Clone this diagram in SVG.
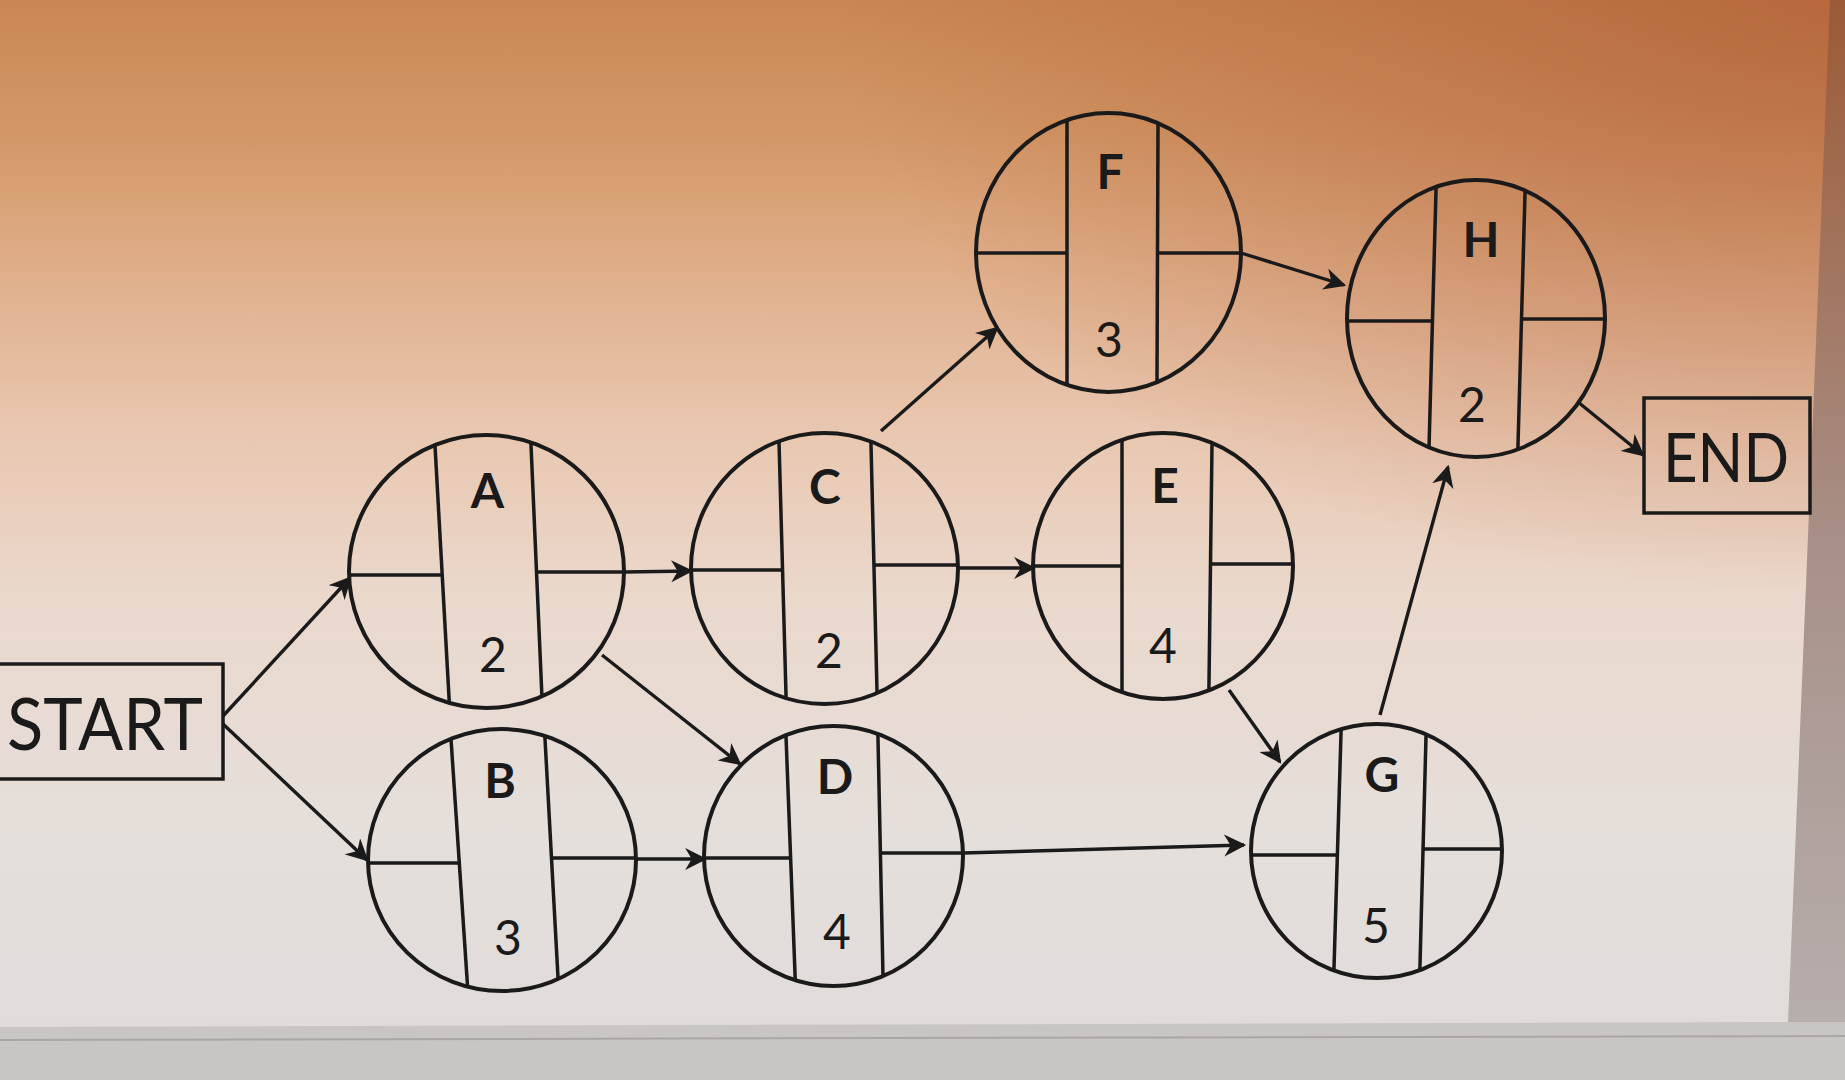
<svg xmlns="http://www.w3.org/2000/svg" width="1845" height="1080" viewBox="0 0 1845 1080">
<defs>
<linearGradient id="bg" x1="0" y1="0" x2="0" y2="1">
<stop offset="0" stop-color="#c98755"/>
<stop offset="0.12" stop-color="#d39766"/>
<stop offset="0.26" stop-color="#e0b08c"/>
<stop offset="0.4" stop-color="#e9c7b0"/>
<stop offset="0.55" stop-color="#ead8cc"/>
<stop offset="0.78" stop-color="#e5dfdb"/>
<stop offset="1" stop-color="#dfdbd9"/>
</linearGradient>
<radialGradient id="tr" cx="1" cy="0" r="0.55">
<stop offset="0" stop-color="#a9542b" stop-opacity="0.6"/>
<stop offset="1" stop-color="#a9542b" stop-opacity="0"/>
</radialGradient>
<linearGradient id="bez" x1="0" y1="0" x2="0" y2="1">
<stop offset="0" stop-color="#9c5a36"/>
<stop offset="0.5" stop-color="#a89088"/>
<stop offset="1" stop-color="#b8b2b0"/>
</linearGradient>
<marker id="ah" viewBox="0 0 10 10" refX="9" refY="5" markerWidth="6.5" markerHeight="6.5" orient="auto" markerUnits="strokeWidth">
<path d="M0,0 L10,5 L0,10 L3,5 Z" fill="#1a1a1a"/>
</marker>
<clipPath id="cA"><ellipse cx="486.5" cy="571.5" rx="137.5" ry="136.5"/></clipPath>
<clipPath id="cB"><ellipse cx="502" cy="860" rx="134" ry="131"/></clipPath>
<clipPath id="cC"><ellipse cx="824.5" cy="568.5" rx="133.5" ry="135.5"/></clipPath>
<clipPath id="cD"><ellipse cx="833.5" cy="856" rx="129.5" ry="130"/></clipPath>
<clipPath id="cE"><ellipse cx="1163" cy="566" rx="130" ry="133"/></clipPath>
<clipPath id="cF"><ellipse cx="1108.5" cy="252.5" rx="132.5" ry="139.5"/></clipPath>
<clipPath id="cG"><ellipse cx="1376.5" cy="851" rx="125.5" ry="127"/></clipPath>
<clipPath id="cH"><ellipse cx="1476" cy="318.5" rx="129" ry="138.5"/></clipPath>
</defs>
<style>
.ring{fill:none;stroke:#1a1a1a;stroke-width:4}
.div{stroke:#1a1a1a;stroke-width:3.5;fill:none}
.box{fill:none;stroke:#1a1a1a;stroke-width:3.5}
.con{stroke:#1a1a1a;stroke-width:3.4;fill:none;marker-end:url(#ah)}
.let{font-family:Lato,"Open Sans","Liberation Sans",sans-serif;font-weight:bold;font-size:48px;fill:#1a1a1a;text-anchor:middle}
.num{font-family:Lato,"Open Sans","Liberation Sans",sans-serif;font-size:48px;fill:#1a1a1a;text-anchor:middle}
.big{font-family:Lato,"Open Sans","Liberation Sans",sans-serif;fill:#1a1a1a}
</style>
<rect x="0" y="0" width="1845" height="1080" fill="url(#bg)"/>
<rect x="0" y="0" width="1845" height="1080" fill="url(#tr)"/>
<polygon points="1830,0 1845,0 1845,1080 1780,1080 1788,1023" fill="url(#bez)"/>
<polygon points="0,1027 1788,1022 1845,1022 1845,1080 0,1080" fill="#c9c5c3"/>
<line x1="0" y1="1040" x2="1845" y2="1036" stroke="#aaa6a4" stroke-width="2"/>

<g id="connectors">
<line class="con" x1="223" y1="716" x2="350" y2="578"/>
<line class="con" x1="223" y1="724" x2="367" y2="860"/>
<line class="con" x1="624" y1="572" x2="691" y2="571"/>
<line class="con" x1="602" y1="655" x2="740" y2="764"/>
<line class="con" x1="636" y1="859" x2="705" y2="859"/>
<line class="con" x1="881" y1="431" x2="997" y2="328"/>
<line class="con" x1="958" y1="568" x2="1034" y2="568"/>
<line class="con" x1="1229" y1="690" x2="1280" y2="762"/>
<line class="con" x1="963" y1="853" x2="1244" y2="845"/>
<line class="con" x1="1241" y1="253" x2="1344" y2="285"/>
<line class="con" x1="1380" y1="715" x2="1448" y2="467"/>
<line class="con" x1="1578" y1="402" x2="1643" y2="455"/>
</g>

<g id="start">
<rect class="box" x="-10" y="664" width="233" height="115"/>
<text class="big" x="7" y="750" font-size="72" textLength="196" lengthAdjust="spacingAndGlyphs">START</text>
</g>

<g id="end">
<rect class="box" x="1644" y="398" width="166" height="115"/>
<text class="big" x="1663" y="482" font-size="68" textLength="126" lengthAdjust="spacingAndGlyphs">END</text>
</g>

<g id="nodeA">
<g clip-path="url(#cA)">
<line class="div" x1="433.3" y1="415" x2="451.1" y2="735"/>
<line class="div" x1="529.7" y1="415" x2="543.6" y2="735"/>
<line class="div" x1="340" y1="575" x2="442.2" y2="575"/>
<line class="div" x1="536.5" y1="572" x2="640" y2="572"/>
</g>
<ellipse class="ring" cx="486.5" cy="571.5" rx="137.5" ry="136.5"/>
<text class="let" x="487.5" y="508">A</text>
<text class="num" x="493" y="672">2</text>
</g>

<g id="nodeB">
<g clip-path="url(#cB)">
<line class="div" x1="449.4" y1="715" x2="468.8" y2="1005"/>
<line class="div" x1="543.7" y1="715" x2="559.5" y2="1005"/>
<line class="div" x1="360" y1="863" x2="459.3" y2="863"/>
<line class="div" x1="551.5" y1="858" x2="650" y2="858"/>
</g>
<ellipse class="ring" cx="502" cy="860" rx="134" ry="131"/>
<text class="let" x="500" y="798">B</text>
<text class="num" x="508" y="955">3</text>
</g>

<g id="nodeC">
<g clip-path="url(#cC)">
<line class="div" x1="778.4" y1="420" x2="786.7" y2="720"/>
<line class="div" x1="870.4" y1="420" x2="877.7" y2="720"/>
<line class="div" x1="680" y1="570" x2="782.6" y2="570"/>
<line class="div" x1="873.9" y1="565" x2="970" y2="565"/>
</g>
<ellipse class="ring" cx="824.5" cy="568.5" rx="133.5" ry="135.5"/>
<text class="let" x="825" y="504">C</text>
<text class="num" x="829" y="668">2</text>
</g>

<g id="nodeD">
<g clip-path="url(#cD)">
<line class="div" x1="785.2" y1="715" x2="796" y2="1000"/>
<line class="div" x1="877.5" y1="715" x2="883.5" y2="1000"/>
<line class="div" x1="695" y1="858" x2="790.6" y2="858"/>
<line class="div" x1="880.4" y1="853" x2="975" y2="853"/>
</g>
<ellipse class="ring" cx="833.5" cy="856" rx="129.5" ry="130"/>
<text class="let" x="835" y="794">D</text>
<text class="num" x="837" y="949">4</text>
</g>

<g id="nodeE">
<g clip-path="url(#cE)">
<line class="div" x1="1122" y1="420" x2="1122" y2="715"/>
<line class="div" x1="1212.3" y1="420" x2="1208.6" y2="715"/>
<line class="div" x1="1020" y1="566" x2="1122" y2="566"/>
<line class="div" x1="1210.5" y1="564" x2="1305" y2="564"/>
</g>
<ellipse class="ring" cx="1163" cy="566" rx="130" ry="133"/>
<text class="let" x="1165" y="503">E</text>
<text class="num" x="1163" y="663">4</text>
</g>

<g id="nodeF">
<g clip-path="url(#cF)">
<line class="div" x1="1067" y1="100" x2="1067" y2="405"/>
<line class="div" x1="1158.1" y1="100" x2="1156.9" y2="405"/>
<line class="div" x1="965" y1="253" x2="1067" y2="253"/>
<line class="div" x1="1157.5" y1="253" x2="1255" y2="253"/>
</g>
<ellipse class="ring" cx="1108.5" cy="252.5" rx="132.5" ry="139.5"/>
<text class="let" x="1110" y="189">F</text>
<text class="num" x="1109" y="357">3</text>
</g>

<g id="nodeG">
<g clip-path="url(#cG)">
<line class="div" x1="1341.7" y1="710" x2="1333.2" y2="995"/>
<line class="div" x1="1426.7" y1="710" x2="1419.2" y2="995"/>
<line class="div" x1="1240" y1="855" x2="1337.4" y2="855"/>
<line class="div" x1="1423" y1="849" x2="1515" y2="849"/>
</g>
<ellipse class="ring" cx="1376.5" cy="851" rx="125.5" ry="127"/>
<text class="let" x="1382" y="792">G</text>
<text class="num" x="1376" y="943">5</text>
</g>

<g id="nodeH">
<g clip-path="url(#cH)">
<line class="div" x1="1436.7" y1="165" x2="1428.4" y2="470"/>
<line class="div" x1="1525.8" y1="165" x2="1517.3" y2="470"/>
<line class="div" x1="1335" y1="321" x2="1432.4" y2="321"/>
<line class="div" x1="1521.5" y1="319" x2="1620" y2="319"/>
</g>
<ellipse class="ring" cx="1476" cy="318.5" rx="129" ry="138.5"/>
<text class="let" x="1481" y="257">H</text>
<text class="num" x="1472" y="422">2</text>
</g>
</svg>
